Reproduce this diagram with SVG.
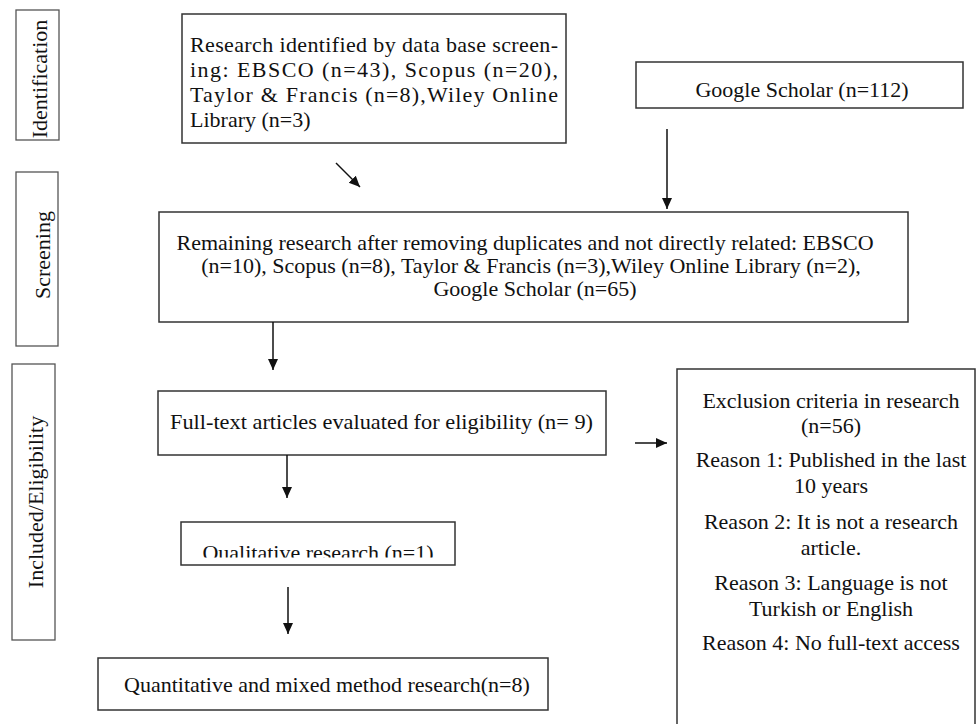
<svg xmlns="http://www.w3.org/2000/svg" width="977" height="724" viewBox="0 0 977 724">
<style>
.box{fill:#fff;stroke:#333;stroke-width:1.5}
.lbl{fill:#fff;stroke:#555;stroke-width:1.3}
text{font-size:22px;fill:#111}
.c{text-anchor:middle}
.conn line{stroke:#111;stroke-width:1.5;marker-end:url(#ah)}
</style>
<defs>
<marker id="ah" markerUnits="userSpaceOnUse" markerWidth="12" markerHeight="12" refX="11" refY="6" orient="auto">
<path d="M0,1 L11,6 L0,11 z" fill="#111"/>
</marker>
<clipPath id="qclip"><rect x="181" y="522" width="274" height="35.5"/></clipPath>
</defs>
<rect width="977" height="724" fill="#fff"/>
<g font-family="Liberation Serif, Times New Roman, Times, serif">

<g id="stage-identification">
<rect class="lbl" x="16" y="10" width="43" height="130"/>
<text class="c" transform="translate(47,79) rotate(-90)">Identification</text>
</g>
<g id="stage-screening">
<rect class="lbl" x="16" y="172" width="42" height="174"/>
<text class="c" transform="translate(50,255) rotate(-90)">Screening</text>
</g>
<g id="stage-included">
<rect class="lbl" x="12" y="364" width="43" height="276"/>
<text class="c" transform="translate(43,502) rotate(-90)">Included/Eligibility</text>
</g>

<g id="node-databases">
<rect class="box" x="182" y="14" width="384" height="129"/>
<text x="190" y="52" textLength="368" lengthAdjust="spacing">Research identified by data base screen-</text>
<text x="190" y="77" textLength="368" lengthAdjust="spacing">ing: EBSCO (n=43), Scopus (n=20),</text>
<text x="190" y="102" textLength="368" lengthAdjust="spacing">Taylor &amp; Francis (n=8),Wiley Online</text>
<text x="190" y="127">Library (n=3)</text>
</g>
<g id="node-google">
<rect class="box" x="636" y="62" width="327" height="46"/>
<text class="c" x="802" y="97">Google Scholar (n=112)</text>
</g>
<g id="node-screening">
<rect class="box" x="159" y="212" width="749" height="110"/>
<text class="c" x="525" y="250">Remaining research after removing duplicates and not directly related: EBSCO</text>
<text class="c" x="531" y="273">(n=10), Scopus (n=8), Taylor &amp; Francis (n=3),Wiley Online Library (n=2),</text>
<text class="c" x="535" y="296">Google Scholar (n=65)</text>
</g>
<g id="node-fulltext">
<rect class="box" x="158" y="391" width="448" height="64"/>
<text x="170" y="429" textLength="423" lengthAdjust="spacingAndGlyphs">Full-text articles evaluated for eligibility (n= 9)</text>
</g>
<g id="node-qualitative">
<rect class="box" x="181" y="522" width="274" height="43"/>
<text class="c" x="318" y="560" clip-path="url(#qclip)">Qualitative research (n=1)</text>
</g>
<g id="node-quantitative">
<rect class="box" x="98" y="658" width="450" height="52"/>
<text x="124" y="692">Quantitative and mixed method research(n=8)</text>
</g>
<g id="node-exclusion">
<rect class="box" x="677" y="369" width="298" height="370"/>
<text class="c" x="831" y="408">Exclusion criteria in research</text>
<text class="c" x="831" y="433">(n=56)</text>
<text class="c" x="831" y="467">Reason 1: Published in the last</text>
<text class="c" x="831" y="493">10 years</text>
<text class="c" x="831" y="529">Reason 2: It is not a research</text>
<text class="c" x="831" y="555">article.</text>
<text class="c" x="831" y="590">Reason 3: Language is not</text>
<text class="c" x="831" y="616">Turkish or English</text>
<text class="c" x="831" y="650">Reason 4: No full-text access</text>
</g>
</g>

<g id="connectors" class="conn">
<line x1="667" y1="129" x2="667" y2="209"/>
<line x1="336" y1="163" x2="360" y2="187"/>
<line x1="273" y1="322" x2="273" y2="370"/>
<line x1="287" y1="455" x2="287" y2="498"/>
<line x1="288" y1="587" x2="288" y2="634"/>
<line x1="635" y1="443" x2="667" y2="443"/>
</g>
</svg>
